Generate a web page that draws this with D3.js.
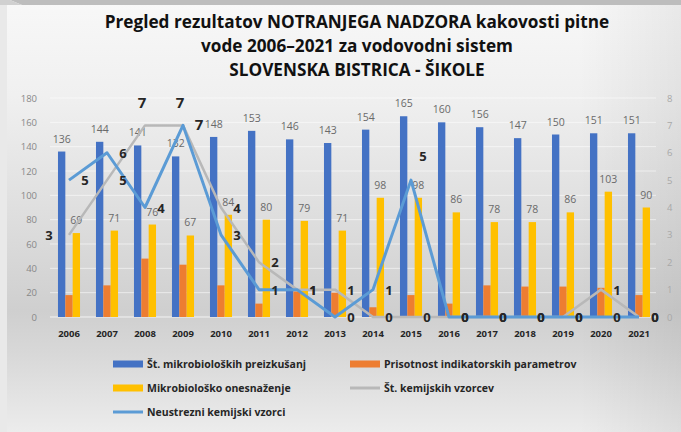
<!DOCTYPE html>
<html>
<head>
<meta charset="utf-8">
<script src="https://cdn.jsdelivr.net/npm/d3@7"></script>
<style>
  html, body { margin: 0; padding: 0; background: #ffffff; }
  svg { display: block; }
  text { font-family: "Open Sans", "Noto Sans", sans-serif; }
</style>
</head>
<body>
<svg id="chart" width="681" height="432"></svg>
<script>
// ---------------- DATA ----------------
const years = ["2006","2007","2008","2009","2010","2011","2012","2013","2014","2015","2016","2017","2018","2019","2020","2021"];
const mikroTests = [136,144,141,132,148,153,146,143,154,165,160,156,147,150,151,151];
const indicatorPresence = [18,26,48,43,26,11,21,20,8,18,11,26,25,25,24,18];
const mikroPollution = [69,71,76,67,84,80,79,71,98,98,86,78,78,86,103,90];
const chemSamples = [3,5,7,7,4,2,1,1,0,0,0,0,0,0,1,0];
const badChemSamples = [5,6,4,7,3,1,1,0,1,5,0,0,0,0,0,0];
const leftTicks = [0,20,40,60,80,100,120,140,160,180];
const rightTicks = [0,1,2,3,4,5,6,7,8];
const titleLines = ["Pregled rezultatov NOTRANJEGA NADZORA kakovosti pitne", "vode 2006–2021 za vodovodni sistem", "SLOVENSKA BISTRICA - ŠIKOLE"];
const seriesNames = ["Št. mikrobioloških preizkušanj", "Prisotnost indikatorskih parametrov", "Mikrobiološko onesnaženje", "Št. kemijskih vzorcev", "Neustrezni kemijski vzorci"];

// ---------------- STYLE ----------------
const colors = {blue: "#4472C4", orange: "#ED7D31", yellow: "#FFC000", grey: "#B8B8B8", lblue: "#5B9BD5"};
// label placement exceptions for line labels (default: right of point)
const labelPlace = {"grey-2006": "left", "grey-2008": "above", "grey-2009": "above", "blue-2015": "aboveRight"};

const svg = d3.select("#chart");
const W = 681, H = 432;

// background
const defs = svg.append("defs");
const bg = defs.append("linearGradient").attr("id", "bg").attr("x1", 0).attr("y1", 0).attr("x2", 0).attr("y2", 1);
[[0, "#f8f8f8"], [0.22, "#f0f0f0"], [0.5, "#dedede"], [0.72, "#cfcfcf"], [0.82, "#d8d8d8"], [1, "#ececec"]]
  .forEach(([o, c]) => bg.append("stop").attr("offset", o).attr("stop-color", c));
svg.append("rect").attr("width", W).attr("height", H).attr("fill", "url(#bg)");
const side = defs.append("linearGradient").attr("id", "side").attr("x1", 0).attr("y1", 0).attr("x2", 1).attr("y2", 0);
[[0, "#000", 0], [0.85, "#000", 0], [1, "#000", 0.06]]
  .forEach(([o, c, a]) => side.append("stop").attr("offset", o).attr("stop-color", c).attr("stop-opacity", a));
svg.append("rect").attr("width", W).attr("height", H).attr("fill", "url(#side)");
svg.append("rect").attr("x", 0).attr("y", 0).attr("width", 7).attr("height", H).attr("fill", "#e9e9e9");
svg.append("path").attr("d", "M0,0 L681,0 L681,5 L22,5 L10,0 Z").attr("fill", "#bdbdbd");
svg.append("path").attr("d", "M0,0 L10,0 L22,5 L0,5 Z").attr("fill", "#d0d0d0");

// title
const title = svg.append("g");
titleLines.forEach((t, i) => {
  title.append("text").attr("x", 357).attr("y", 28 + i * 24)
    .attr("text-anchor", "middle").attr("font-size", 17.2).attr("font-weight", 700)
    .attr("fill", "#111111").text(t);
});

// scales
const x = d3.scaleBand().domain(years).range([50, 658]).paddingInner(0.42).paddingOuter(0.21);
const barKeys = ["blue", "orange", "yellow"];
const x1 = d3.scaleBand().domain(barKeys).range([0, x.bandwidth()]);
const y = d3.scaleLinear().domain([0, 180]).range([317, 98]);
const y2 = d3.scaleLinear().domain([0, 8]).range([317, 98]);

// gridlines
svg.append("g").selectAll("line").data(leftTicks).join("line")
  .attr("x1", 50).attr("x2", 656).attr("y1", d => y(d)).attr("y2", d => y(d))
  .attr("stroke", "#ffffff").attr("stroke-opacity", 0.55).attr("stroke-width", 1);

// left axis
const yAxis = d3.axisLeft(y).tickValues(leftTicks).tickSize(0).tickPadding(0);
const gy = svg.append("g").attr("transform", "translate(37,0)").call(yAxis);
gy.select(".domain").remove();
gy.selectAll("text").attr("font-size", 9.5).attr("fill", "#888888").attr("font-family", "Open Sans, sans-serif");

// right axis
const y2Axis = d3.axisRight(y2).tickValues(rightTicks).tickSize(0).tickPadding(0);
const gy2 = svg.append("g").attr("transform", "translate(667,0)").call(y2Axis);
gy2.select(".domain").remove();
gy2.selectAll("text").attr("font-size", 9.5).attr("fill", "#a8a8a8").attr("font-family", "Open Sans, sans-serif");

// x axis
const xAxis = d3.axisBottom(x).tickSize(0).tickPadding(0);
const gx = svg.append("g").attr("transform", "translate(0,330)").call(xAxis);
gx.select(".domain").remove();
gx.selectAll("text").attr("font-size", 9.5).attr("font-weight", 700).attr("fill", "#262626").attr("font-family", "Open Sans, sans-serif");
svg.append("line").attr("x1", 50).attr("x2", 656).attr("y1", y(0)).attr("y2", y(0)).attr("stroke", "#e6e6e6").attr("stroke-width", 1);

// bars
const barData = years.map((yr, i) => ({year: yr, vals: [
  {k: "blue", v: mikroTests[i]}, {k: "orange", v: indicatorPresence[i]}, {k: "yellow", v: mikroPollution[i]}]}));
const groups = svg.append("g").selectAll("g").data(barData).join("g")
  .attr("transform", d => `translate(${x(d.year)},0)`);
groups.selectAll("rect").data(d => d.vals).join("rect")
  .attr("x", d => x1(d.k)).attr("width", x1.bandwidth())
  .attr("y", d => y(d.v)).attr("height", d => y(0) - y(d.v))
  .attr("fill", d => colors[d.k]);
groups.selectAll("text").data(d => d.vals.filter(v => v.k !== "orange")).join("text")
  .attr("x", d => x1(d.k) + x1.bandwidth() / 2).attr("y", d => y(d.v) - 9)
  .attr("text-anchor", "middle").attr("font-size", 10.5).attr("fill", "#6a6a6a")
  .text(d => d.v);

// lines
const cx = yr => x(yr) + x.bandwidth() / 2;
const lineGen = d3.line().x(d => cx(d.year)).y(d => y2(d.v));
const greyData = years.map((yr, i) => ({year: yr, v: chemSamples[i]}));
const blueData = years.map((yr, i) => ({year: yr, v: badChemSamples[i]}));
svg.append("path").datum(greyData).attr("d", lineGen).attr("fill", "none")
  .attr("stroke", colors.grey).attr("stroke-width", 2.5).attr("stroke-linejoin", "round");
svg.append("path").datum(blueData).attr("d", lineGen).attr("fill", "none")
  .attr("stroke", colors.lblue).attr("stroke-width", 3).attr("stroke-linejoin", "round");

function drawLabels(data, key) {
  svg.append("g").selectAll("text").data(data).join("text")
    .attr("x", d => {
      const p = labelPlace[key + "-" + d.year];
      if (p === "left") return cx(d.year) - 20;
      if (p === "above") return cx(d.year) - 3;
      if (p === "aboveRight") return cx(d.year) + 12;
      return cx(d.year) + 16;
    })
    .attr("y", d => {
      const p = labelPlace[key + "-" + d.year];
      if (p === "above") return y2(d.v) - 17;
      if (p === "aboveRight") return y2(d.v) - 19;
      return y2(d.v) + 5;
    })
    .attr("text-anchor", "middle").attr("font-size", d => d.v === 7 ? 15 : 13).attr("font-weight", 700)
    .attr("fill", "#262626").text(d => d.v);
}
drawLabels(greyData, "grey");
drawLabels(blueData, "blue");

// legend
const legendItems = [
  {name: seriesNames[0], color: colors.blue, type: "rect", lx: 113, ly: 364},
  {name: seriesNames[1], color: colors.orange, type: "rect", lx: 350, ly: 364},
  {name: seriesNames[2], color: colors.yellow, type: "rect", lx: 113, ly: 388},
  {name: seriesNames[3], color: colors.grey, type: "line", lx: 350, ly: 388},
  {name: seriesNames[4], color: colors.lblue, type: "line", lx: 113, ly: 412}
];
const lg = svg.append("g").selectAll("g").data(legendItems).join("g")
  .attr("transform", d => `translate(${d.lx},${d.ly})`);
lg.filter(d => d.type === "rect").append("rect").attr("x", 0).attr("y", -3.5).attr("width", 30).attr("height", 7).attr("fill", d => d.color);
lg.filter(d => d.type === "line").append("line").attr("x1", 0).attr("x2", 30).attr("y1", 0).attr("y2", 0).attr("stroke", d => d.color).attr("stroke-width", 3);
lg.append("text").attr("x", 34).attr("y", 4).attr("font-size", 10.5).attr("font-weight", 700).attr("fill", "#262626").text(d => d.name);
</script>
</body>
</html>
